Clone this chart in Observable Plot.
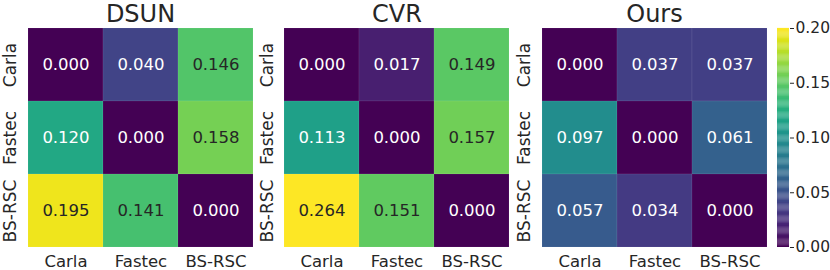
<!DOCTYPE html>
<html>
<head>
<meta charset="utf-8">
<script src="https://cdn.jsdelivr.net/npm/d3@7"></script>
<script src="https://cdn.jsdelivr.net/npm/@observablehq/plot@0.6"></script>
<style>
  html, body { margin: 0; padding: 0; background: white; }
  #chart { position: relative; width: 830px; height: 270px; overflow: hidden; font-family: "DejaVu Sans", sans-serif; }
  #chart svg { position: absolute; top: 0; }
</style>
</head>
<body>
<div id="chart"></div>
<script>
const categories = ["Carla", "Fastec", "BS-RSC"];
const methods = ["DSUN", "CVR", "Ours"];
const dsunValues = [[0.000, 0.040, 0.146], [0.120, 0.000, 0.158], [0.195, 0.141, 0.000]];
const cvrValues  = [[0.000, 0.017, 0.149], [0.113, 0.000, 0.157], [0.264, 0.151, 0.000]];
const oursValues = [[0.000, 0.037, 0.037], [0.097, 0.000, 0.061], [0.057, 0.034, 0.000]];
const colorTicks = [0.00, 0.05, 0.10, 0.15, 0.20];
const colorDomain = [0, 0.20];

const INK = "#262626";
const FONT = "DejaVu Sans, sans-serif";

function relLum(c) {
  const ch = [c.r, c.g, c.b].map(v => {
    v /= 255;
    return v <= 0.03928 ? v / 12.92 : Math.pow((v + 0.055) / 1.055, 2.4);
  });
  return 0.2126 * ch[0] + 0.7152 * ch[1] + 0.0722 * ch[2];
}
function textColor(v) {
  const t = Math.max(0, Math.min(1, (v - colorDomain[0]) / (colorDomain[1] - colorDomain[0])));
  const c = d3.rgb(d3.interpolateViridis(t));
  return relLum(c) > 0.4 ? INK : "white";
}

const matrices = [dsunValues, cvrValues, oursValues];
const layouts = [
  {left: 0,   width: 257, marginLeft: 27, marginRight: 4},
  {left: 257, width: 257, marginLeft: 27, marginRight: 5},
  {left: 514, width: 256, marginLeft: 27, marginRight: 3}
];

const chart = document.getElementById("chart");

methods.forEach((name, k) => {
  const m = matrices[k];
  const cells = [];
  categories.forEach((row, i) => categories.forEach((col, j) => cells.push({row, col, v: m[i][j]})));
  const L = layouts[k];
  const svg = Plot.plot({
    width: L.width,
    height: 270,
    marginLeft: L.marginLeft,
    marginRight: L.marginRight,
    marginTop: 28,
    marginBottom: 23,
    style: {background: "transparent", overflow: "visible", maxWidth: "none", fontFamily: FONT},
    x: {domain: categories, padding: 0, axis: null},
    y: {domain: categories, padding: 0, axis: null},
    color: {type: "linear", scheme: "viridis", domain: colorDomain, clamp: true},
    marks: [
      Plot.cell(cells, {x: "col", y: "row", fill: "v", stroke: "white", strokeOpacity: 0.12, strokeWidth: 0.6}),
      Plot.text(cells, {x: "col", y: "row", text: d => d.v.toFixed(3), fill: d => textColor(d.v), fontSize: 16.5}),
      Plot.text(categories, {y: d => d, frameAnchor: "left", dx: -17, rotate: -90, textAnchor: "middle", lineAnchor: "middle", fontSize: 17, fill: INK}),
      Plot.text(categories, {x: d => d, frameAnchor: "bottom", dy: 14, textAnchor: "middle", lineAnchor: "middle", fontSize: 16.5, fill: INK}),
      Plot.text([name], {frameAnchor: "top", dy: -14, fontSize: 24, fill: INK, lineAnchor: "middle"})
    ]
  });
  svg.style.left = L.left + "px";
  chart.appendChild(svg);
});

// colorbar
const stops = d3.range(0, 200).map(i => i / 1000);
const cbar = Plot.plot({
  width: 60,
  height: 270,
  marginLeft: 7,
  marginRight: 41,
  marginTop: 28,
  marginBottom: 23,
  style: {background: "transparent", overflow: "visible", maxWidth: "none", fontFamily: FONT},
  x: {domain: [0, 1], axis: null},
  y: {domain: colorDomain, axis: null},
  color: {type: "linear", scheme: "viridis", domain: colorDomain},
  marks: [
    Plot.rect(stops, {x1: 0, x2: 1, y1: d => d, y2: d => d + 0.0011, fill: d => d + 0.0005}),
    Plot.axisY(colorTicks, {anchor: "right", tickSize: 4, tickPadding: 2, tickFormat: d3.format(".2f"), fontSize: 15.5, color: INK})
  ]
});
cbar.style.left = "770px";
chart.appendChild(cbar);
</script>
</body>
</html>
